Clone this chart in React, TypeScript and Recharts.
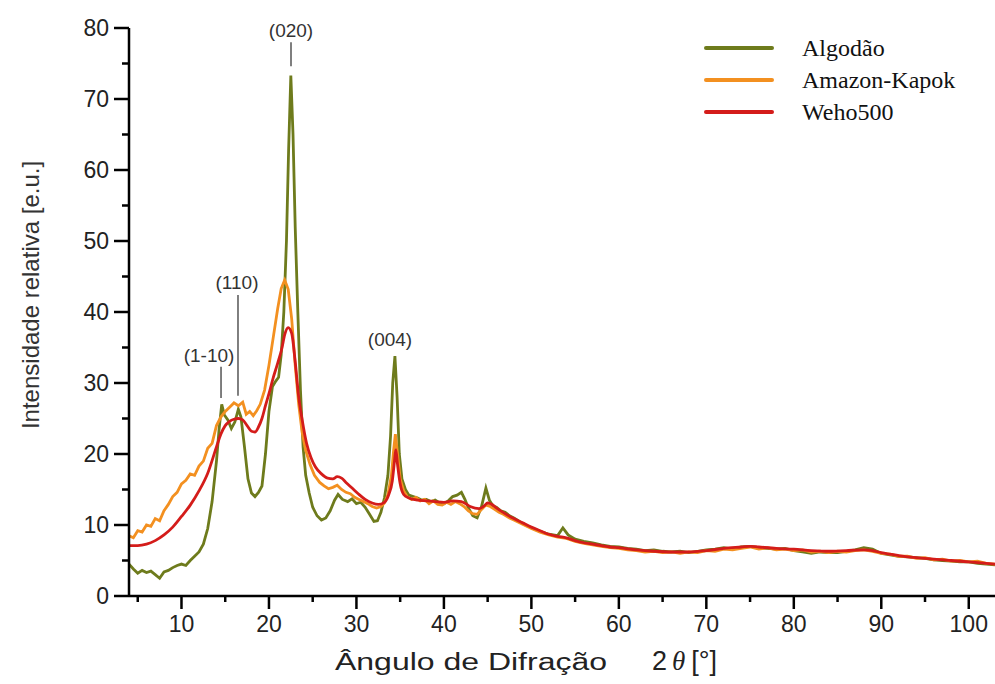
import React from 'react';
import {
  LineChart,
  Line,
  XAxis,
  YAxis,
  Legend,
  ReferenceLine,
  ReferenceDot,
} from 'recharts';

// 2θ positions and relative intensities
const algodaoX = [
  4, 4.5, 5, 5.5, 6, 6.5, 7, 7.5, 8, 8.5, 9, 9.5, 10, 10.5, 11, 11.5, 12, 12.5, 13, 13.5,
  14, 14.3, 14.6, 14.9, 15.3, 15.7, 16.1, 16.5, 16.8, 17.2, 17.6, 18, 18.4, 18.8, 19.2, 19.6,
  20, 20.4, 20.8, 21.1, 21.4, 21.7, 22, 22.25, 22.5, 22.75, 23, 23.3, 23.6, 23.9, 24.2, 24.6,
  25, 25.5, 26, 26.5, 27, 27.5, 27.9, 28.4, 29, 29.5, 30, 30.5, 31, 31.5, 32, 32.4, 32.8, 33.2,
  33.6, 33.9, 34.15, 34.4, 34.65, 34.9, 35.2, 35.6, 36, 36.5, 37, 37.5, 38, 38.5, 39, 39.5, 40,
  40.5, 41, 41.5, 42, 42.4, 42.8, 43.3, 43.8, 44.3, 44.8, 45.2, 45.6, 46, 46.5, 47, 47.5, 48,
  48.5, 49, 49.5, 50, 51, 52, 53, 53.6, 54.2, 55, 56, 57, 58, 59, 60, 61, 62, 63, 64, 65, 66,
  67, 68, 69, 70, 71, 72, 73, 74, 75, 76, 77, 78, 79, 80, 81, 82, 83, 84, 85, 86, 87, 88, 89,
  90, 91, 92, 93, 94, 95, 96, 97, 98, 99, 100, 101, 102, 103,
];
const algodaoY = [
  4.5, 3.8, 3.2, 3.6, 3.3, 3.5, 3.0, 2.5, 3.4, 3.6, 4.0, 4.3, 4.5, 4.3, 5.0, 5.6, 6.2, 7.3, 9.5, 13.3,
  19.0, 23.5, 27.0, 25.5, 24.8, 23.6, 24.5, 26.3, 25.2, 21.0, 16.5, 14.5, 14.0, 14.6, 15.5, 20.0,
  26.0, 29.5, 30.3, 30.8, 34.0, 40.0, 50.0, 63.0, 73.3, 65.0, 52.0, 40.0, 29.0, 21.0, 17.0, 14.5,
  12.5, 11.3, 10.7, 11.0, 12.0, 13.5, 14.3, 13.6, 13.3, 13.7, 13.0, 13.2, 12.5, 11.5, 10.5, 10.6, 11.8, 13.8,
  17.0, 22.5, 30.0, 33.8, 28.0, 20.0, 16.5, 15.0, 14.2, 14.0, 13.8, 13.5, 13.6, 13.3, 13.5, 13.1, 13.0,
  13.4, 14.0, 14.2, 14.6, 13.6, 12.4, 11.3, 11.0, 12.6, 15.2, 13.5, 12.7, 12.5, 12.0, 11.8, 11.3, 11.0,
  10.6, 10.2, 9.9, 9.6, 9.1, 8.7, 8.5, 9.6, 8.6, 8.0, 7.7, 7.5, 7.2, 7.0, 6.9, 6.7, 6.6, 6.4, 6.5, 6.3, 6.2,
  6.3, 6.1, 6.3, 6.5, 6.6, 6.8, 6.6, 6.9, 7.0, 6.8, 6.7, 6.6, 6.7, 6.4, 6.2, 6.0, 6.2, 6.1, 6.1, 6.3, 6.5, 6.8, 6.6,
  6.0, 5.8, 5.6, 5.5, 5.4, 5.3, 5.1, 5.0, 4.9, 4.8, 4.8, 4.6, 4.5, 4.4,
];

const kapokX = [
  4, 4.5, 5, 5.5, 6, 6.5, 7, 7.5, 8, 8.5, 9, 9.5, 10, 10.5, 11, 11.5, 12, 12.5, 13, 13.5, 14, 14.5,
  15, 15.5, 16, 16.5, 17, 17.4, 17.8, 18.2, 18.6, 19, 19.5, 20, 20.5, 21, 21.4, 21.8, 22.2, 22.6,
  23, 23.4, 23.8, 24.2, 24.7, 25.2, 25.8, 26.3, 26.8, 27.3, 27.8, 28.3, 28.8, 29.3, 29.8, 30.3,
  30.8, 31.3, 31.8, 32.3, 32.8, 33.2, 33.6, 34, 34.25, 34.45, 34.7, 35, 35.4, 35.8, 36.3, 36.8,
  37.3, 37.8, 38.3, 38.8, 39.3, 39.8, 40.3, 40.8, 41.3, 41.8, 42.3, 42.8, 43.3, 43.8, 44.3, 44.8,
  45.3, 45.8, 46.3, 46.8, 47.5, 48, 49, 50, 51, 52, 53, 54, 55, 56, 57, 58, 59, 60, 61, 62, 63, 64,
  65, 66, 67, 68, 69, 70, 71, 72, 73, 74, 75, 76, 77, 78, 79, 80, 81, 82, 83, 84, 85, 86, 87, 88,
  89, 90, 91, 92, 93, 94, 95, 96, 97, 98, 99, 100, 101, 102, 103,
];
const kapokY = [
  8.5, 8.2, 9.2, 9.0, 10.0, 9.8, 10.9, 10.6, 12.0, 12.9, 14.0, 14.6, 15.8, 16.3, 17.2, 17.0, 18.3, 19.0, 20.8, 21.5, 24.0, 25.2,
  26.0, 26.6, 27.2, 26.8, 27.3, 25.6, 26.0, 25.4, 26.1, 27.0, 29.0, 32.5, 36.5, 40.5, 43.3, 44.5, 43.2, 39.0,
  32.5, 27.0, 23.0, 20.5, 18.5, 17.0, 16.0, 15.5, 15.1, 15.3, 15.6, 15.0, 14.6, 14.4, 13.9, 13.6,
  13.3, 13.0, 12.6, 12.4, 12.6, 13.1, 14.3, 17.0, 20.5, 22.8, 20.0, 16.5, 14.8, 14.0, 13.6, 13.9,
  13.4, 13.6, 13.0, 13.4, 12.9, 12.8, 13.2, 12.9, 13.3, 13.0, 12.6, 12.0, 11.6, 11.5, 12.2, 12.8,
  12.6, 12.2, 11.8, 11.5, 11.0, 10.7, 10.1, 9.5, 9.0, 8.6, 8.3, 8.1, 7.7, 7.4, 7.2, 7.0, 6.8, 6.7, 6.5, 6.4, 6.2, 6.3,
  6.1, 6.2, 6.0, 6.2, 6.1, 6.4, 6.3, 6.6, 6.5, 6.7, 6.9, 6.6, 6.8, 6.5, 6.6, 6.4, 6.5, 6.2, 6.3, 6.1, 6.3, 6.2, 6.4, 6.5,
  6.3, 6.0, 5.9, 5.6, 5.6, 5.3, 5.4, 5.1, 5.2, 4.9, 5.0, 4.8, 4.9, 4.6, 4.5,
];

const wehoX = [
  4, 5, 6, 7, 8, 9, 10, 11, 12, 13, 14, 14.5, 15, 15.5, 16, 16.5, 17, 17.5, 18, 18.4, 18.8, 19.2,
  19.6, 20, 20.5, 21, 21.5, 21.8, 22.2, 22.6, 23, 23.4, 23.8, 24.3, 24.8, 25.3, 26, 26.7, 27.3,
  27.8, 28.3, 28.8, 29.5, 30.2, 31, 31.8, 32.5, 33.2, 33.7, 34.1, 34.35, 34.5, 34.7, 35, 35.4, 36,
  37, 38, 39, 40, 41, 42, 43, 44, 44.6, 45, 45.5, 46, 47, 48, 49, 50, 51, 52, 53, 54, 55, 56, 57,
  58, 59, 60, 62, 64, 66, 68, 70, 72, 74, 75, 76, 78, 80, 82, 84, 86, 88, 89, 90, 92, 94, 96, 98,
  100, 102, 103,
];
const wehoY = [
  7.1, 7.1, 7.3, 7.8, 8.6, 9.7, 11.2, 12.8, 14.8, 17.3, 21.0, 22.8, 24.0, 24.6, 24.9, 25.0, 24.8, 24.0, 23.2, 23.1, 23.8, 25.0,
  26.8, 28.5, 30.8, 32.8, 35.0, 36.8, 37.8, 37.0, 33.0, 28.0, 24.8, 21.5, 19.5, 18.2, 17.2, 16.6, 16.5,
  16.8, 16.6, 16.0, 15.2, 14.4, 13.6, 13.1, 12.9, 13.2, 14.3, 16.2, 19.0, 20.6, 18.5, 15.8, 14.3, 13.8,
  13.5, 13.4, 13.3, 13.2, 13.4, 13.3, 12.6, 12.3, 12.7, 13.1, 12.9, 12.4, 11.6, 10.9, 10.3, 9.7, 9.2, 8.7, 8.4, 8.2, 7.8, 7.5, 7.3,
  7.1, 6.9, 6.8, 6.5, 6.3, 6.2, 6.2, 6.4, 6.7, 6.9, 7.0, 6.9, 6.7, 6.6, 6.4, 6.3, 6.4, 6.5, 6.4, 6.1, 5.7, 5.4, 5.2, 5.0,
  4.8, 4.6, 4.5,
];

const xTicks = [5, 10, 15, 20, 25, 30, 35, 40, 45, 50, 55, 60, 65, 70, 75, 80, 85, 90, 95, 100];
const yTicks = [0, 5, 10, 15, 20, 25, 30, 35, 40, 45, 50, 55, 60, 65, 70, 75, 80];

// Miller index markers: label position and the tick line under it
const peakNames = ['(1-10)', '(110)', '(020)', '(004)'];
const peakLabelX = [13.15, 16.35, 22.52, 33.84];
const peakLabelY = [33.9, 44.2, 79.7, 36.2];
const peakLineX = [14.52, 16.46, 22.52, null];
const peakLineTop = [32.3, 42.4, 78.0, null];
const peakLineBottom = [27.9, 28.2, 74.6, null];

const toPoints = (xs: number[], ys: number[]) => xs.map((x, i) => ({ x, y: ys[i] }));

const algodao = toPoints(algodaoX, algodaoY);
const kapok = toPoints(kapokX, kapokY);
const weho = toPoints(wehoX, wehoY);

const SANS = '"Liberation Sans", Arial, Helvetica, sans-serif';
const SERIF = '"Liberation Serif", "Times New Roman", serif';

const XTick = (props: any) => {
  const { x, y, payload } = props;
  const major = payload.value % 10 === 0;
  return (
    <g>
      <line x1={x} x2={x} y1={y} y2={y + (major ? 13 : 6)} stroke="#000" strokeWidth={2.5} />
      {major && (
        <text x={x} y={y + 36} textAnchor="middle" fontSize={23} fill="#222" fontFamily={SANS}>
          {payload.value}
        </text>
      )}
    </g>
  );
};

const YTick = (props: any) => {
  const { x, y, payload } = props;
  const major = payload.value % 10 === 0;
  return (
    <g>
      <line x1={x} x2={x - (major ? 15 : 7)} y1={y} y2={y} stroke="#000" strokeWidth={2.5} />
      {major && (
        <text x={x - 20} y={y} dy="0.35em" textAnchor="end" fontSize={23} fill="#222" fontFamily={SANS}>
          {payload.value}
        </text>
      )}
    </g>
  );
};

const LegendBox = (props: any) => {
  const { payload } = props;
  return (
    <svg width={280} height={110}>
      {(payload || []).map((entry: any, i: number) => (
        <g key={entry.value}>
          <line
            x1={6}
            x2={72}
            y1={18 + i * 32}
            y2={18 + i * 32}
            stroke={entry.color}
            strokeWidth={4}
            strokeLinecap="round"
          />
          <text x={102} y={26 + i * 32} fontSize={24} fill="#111" fontFamily={SERIF}>
            {entry.value}
          </text>
        </g>
      ))}
    </svg>
  );
};

export default function App() {
  return (
    <div style={{ position: 'absolute', left: 0, top: 0, width: 995, height: 684, background: '#fff' }}>
      <LineChart width={995} height={684} margin={{ top: 28, right: 0, bottom: 0, left: 0 }}>
        <XAxis
          type="number"
          dataKey="x"
          domain={[4, 103]}
          ticks={xTicks}
          interval={0}
          height={88}
          tickSize={0}
          tickMargin={0}
          tickLine={false}
          axisLine={{ stroke: '#000', strokeWidth: 2.5 }}
          tick={<XTick />}
          label={{
            content: () => (
              <g fill="#222">
                <text x={335} y={670} fontSize={23} fontFamily={SANS} textLength={272} lengthAdjust="spacingAndGlyphs">
                  Ângulo de Difração
                </text>
                <text x={652} y={670} fontSize={27} fontFamily={SANS}>
                  <tspan>2</tspan>
                  <tspan fontFamily={SERIF} fontStyle="italic" dx={5}>θ</tspan>
                  <tspan dx={6}>[°]</tspan>
                </text>
              </g>
            ),
          }}
        />
        <YAxis
          type="number"
          domain={[0, 80]}
          ticks={yTicks}
          interval={0}
          width={129}
          tickSize={0}
          tickMargin={0}
          tickLine={false}
          axisLine={{ stroke: '#000', strokeWidth: 2.5 }}
          tick={<YTick />}
          label={{
            content: () => (
              <text
                x={30}
                y={295}
                transform="rotate(-90 30 295)"
                textAnchor="middle"
                dominantBaseline="central"
                fontSize={24}
                fill="#333"
                fontFamily={SANS}
              >
                Intensidade relativa [e.u.]
              </text>
            ),
          }}
        />
        <Legend
          verticalAlign="middle"
          align="center"
          layout="vertical"
          content={<LegendBox />}
          wrapperStyle={{ top: 30, left: 700, width: 280, height: 110 }}
        />
        <Line
          data={algodao}
          dataKey="y"
          name="Algodão"
          type="linear"
          stroke="#6e7b1c"
          strokeWidth={2.8}
          dot={false}
          activeDot={false}
          isAnimationActive={false}
        />
        <Line
          data={kapok}
          dataKey="y"
          name="Amazon-Kapok"
          type="linear"
          stroke="#f39020"
          strokeWidth={2.8}
          dot={false}
          activeDot={false}
          isAnimationActive={false}
        />
        <Line
          data={weho}
          dataKey="y"
          name="Weho500"
          type="monotone"
          stroke="#d41c1a"
          strokeWidth={2.8}
          dot={false}
          activeDot={false}
          isAnimationActive={false}
        />
        {peakNames.map((name, i) =>
          peakLineX[i] !== null ? (
            <ReferenceLine
              key={`line-${name}`}
              segment={[
                { x: peakLineX[i] as number, y: peakLineBottom[i] as number },
                { x: peakLineX[i] as number, y: peakLineTop[i] as number },
              ]}
              stroke="#555"
              strokeWidth={1.5}
            />
          ) : null
        )}
        {peakNames.map((name, i) => (
          <ReferenceDot
            key={`label-${name}`}
            x={peakLabelX[i]}
            y={peakLabelY[i]}
            r={0}
            fill="none"
            stroke="none"
            label={{ value: name, position: 'center', fontSize: 19, fill: '#333', fontFamily: SANS }}
          />
        ))}
      </LineChart>
    </div>
  );
}
